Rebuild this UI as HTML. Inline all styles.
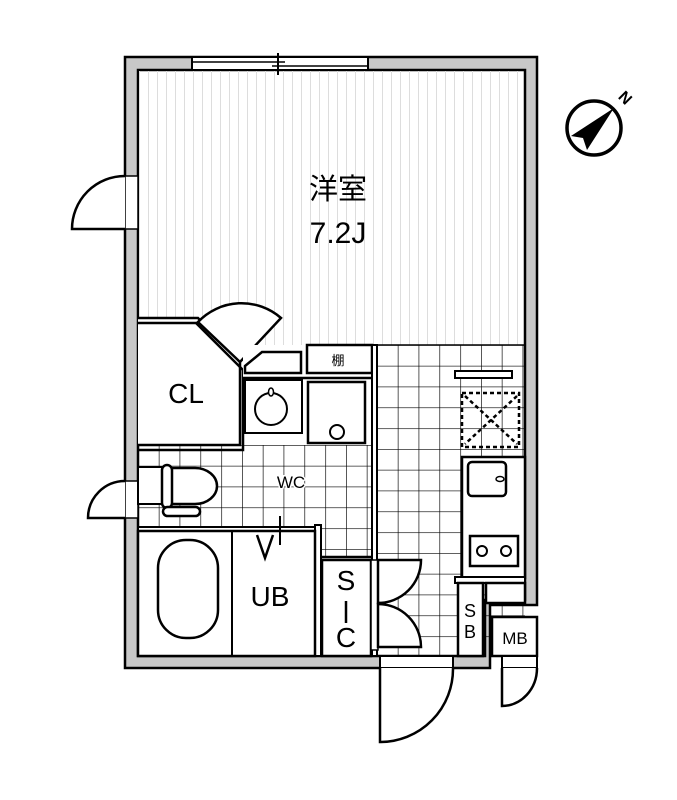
<!DOCTYPE html>
<html><head><meta charset="utf-8"><style>
html,body{margin:0;padding:0;background:#fff;}
svg{display:block;}
text{font-family:"Liberation Sans","Noto Sans CJK JP",sans-serif;fill:#000;}
</style></head><body>
<svg width="677" height="800" viewBox="0 0 677 800" xmlns="http://www.w3.org/2000/svg">
<defs>
<pattern id="str" width="9" height="10" patternUnits="userSpaceOnUse"><line x1="4.5" y1="0" x2="4.5" y2="10" stroke="#ddd" stroke-width="1"/></pattern>
<pattern id="tile" x="377" y="345" width="20.8" height="20.8" patternUnits="userSpaceOnUse"><path d="M0 0H20.8M0 0V20.8" stroke="#000" stroke-width="1.3" fill="none"/></pattern>
<pattern id="tile2" x="138" y="445" width="20.8" height="20.8" patternUnits="userSpaceOnUse"><path d="M0 0H20.8M0 0V20.8" stroke="#000" stroke-width="1.3" fill="none"/></pattern>
</defs>
<path d="M125 57H537V605H490V668H125Z" fill="#c8c8c8" stroke="#000" stroke-width="2.5"/>
<path d="M138 70H525V600H485V656H138Z" fill="#fff" stroke="#000" stroke-width="2.5"/>
<rect x="139" y="71" width="385" height="274" fill="url(#str)"/>
<rect x="377" y="345" width="148" height="311" fill="url(#tile)"/>
<rect x="138" y="445" width="234" height="82" fill="url(#tile2)"/>
<rect x="315" y="527" width="57" height="30" fill="url(#tile2)"/>
<line x1="377" y1="345" x2="525" y2="345" stroke="#000" stroke-width="1.5"/>
<rect x="192" y="57" width="176" height="13" fill="#fff" stroke="#000" stroke-width="2"/>
<line x1="192" y1="62" x2="285" y2="62" stroke="#000" stroke-width="1.5"/>
<line x1="272" y1="66" x2="368" y2="66" stroke="#000" stroke-width="1.5"/>
<line x1="278" y1="53" x2="278" y2="75" stroke="#000" stroke-width="2"/>
<rect x="125" y="176" width="13" height="53" fill="#fff" stroke="#000" stroke-width="1.5"/>
<path d="M125 176A53 53 0 0 0 72 229H125" fill="#fff" stroke="#000" stroke-width="2.5"/>
<rect x="125" y="481" width="13" height="37" fill="#fff" stroke="#000" stroke-width="1.5"/>
<path d="M125 481A37 37 0 0 0 88 518H125" fill="#fff" stroke="#000" stroke-width="2.5"/>
<path d="M138 318H198L240 362V445H138" fill="#fff" stroke="#000" stroke-width="2.5"/>
<path d="M138 323H196L243 370V450H138" fill="none" stroke="#000" stroke-width="2.5"/>
<path d="M198 322L240 362L281 318A60 60 0 0 0 198 322Z" fill="#fff" stroke="#000" stroke-width="2.5"/>
<text x="186" y="403" font-size="28" text-anchor="middle">CL</text>
<path d="M243 345H372V378H243Z" fill="#fff" stroke="none"/>
<path d="M262 352H301V373H245V366Z" fill="#fff" stroke="#000" stroke-width="2.5"/>
<rect x="307" y="345" width="65" height="28" fill="#fff" stroke="#000" stroke-width="2.5"/>
<text x="338" y="365" font-size="13" text-anchor="middle">棚</text>
<line x1="243" y1="378" x2="372" y2="378" stroke="#000" stroke-width="2.5"/>
<rect x="245" y="380" width="57" height="53" fill="#fff" stroke="#000" stroke-width="2"/>
<circle cx="271" cy="409" r="16" fill="none" stroke="#000" stroke-width="2"/>
<ellipse cx="271" cy="392" rx="2.5" ry="4" fill="#fff" stroke="#000" stroke-width="1.5"/>
<rect x="308" y="382" width="57" height="61" fill="#fff" stroke="#000" stroke-width="2.5"/>
<circle cx="337" cy="432" r="7" fill="none" stroke="#000" stroke-width="2"/>
<rect x="372" y="345" width="5" height="311" fill="#fff" stroke="#000" stroke-width="2"/>
<rect x="138" y="467" width="30" height="37" fill="#fff" stroke="#000" stroke-width="2"/>
<path d="M168 468H195A22 18 0 0 1 195 504H168Z" fill="#fff" stroke="#000" stroke-width="2.5"/>
<rect x="162" y="465" width="10" height="43" rx="5" fill="#fff" stroke="#000" stroke-width="2.5"/>
<rect x="163" y="507" width="37" height="9" rx="4.5" fill="#fff" stroke="#000" stroke-width="2.5"/>
<text x="291" y="488" font-size="17" text-anchor="middle" stroke="#fff" stroke-width="3" paint-order="stroke">WC</text>
<rect x="138" y="527" width="177" height="4" fill="#fff" stroke="#000" stroke-width="2"/>
<rect x="315" y="525" width="6" height="131" fill="#fff" stroke="#000" stroke-width="2"/>
<rect x="138" y="531" width="177" height="125" fill="#fff" stroke="#000" stroke-width="2.5"/>
<line x1="232" y1="531" x2="232" y2="656" stroke="#000" stroke-width="2"/>
<rect x="158" y="540" width="60" height="98" rx="28" fill="#fff" stroke="#000" stroke-width="2.5"/>
<path d="M257 535L265 558L273 535" fill="none" stroke="#000" stroke-width="2.5"/>
<line x1="280" y1="516" x2="280" y2="545" stroke="#000" stroke-width="2"/>
<text x="270" y="606" font-size="28" text-anchor="middle">UB</text>
<line x1="321" y1="557" x2="372" y2="557" stroke="#000" stroke-width="2.5"/>
<rect x="322" y="560" width="49" height="96" fill="#fff" stroke="#000" stroke-width="2.5"/>
<text x="346" y="590" font-size="28" text-anchor="middle">S</text>
<line x1="346" y1="601" x2="346" y2="623" stroke="#000" stroke-width="2.5"/>
<text x="346" y="647" font-size="28" text-anchor="middle">C</text>
<rect x="371" y="560" width="7" height="90" fill="#fff" stroke="#000" stroke-width="1.5"/>
<path d="M378 560H421A43 43 0 0 1 378 603Z" fill="#fff" stroke="#000" stroke-width="2.5"/>
<path d="M378 647H421A43 43 0 0 0 378 604Z" fill="#fff" stroke="#000" stroke-width="2.5"/>
<rect x="455" y="371" width="57" height="7" fill="#fff" stroke="#000" stroke-width="2"/>
<rect x="462" y="393" width="57" height="54" fill="none" stroke="#000" stroke-width="2.5" stroke-dasharray="4,3"/>
<path d="M465 396L517 444M517 396L465 444" stroke="#000" stroke-width="2.5" stroke-dasharray="4,3"/>
<rect x="462" y="457" width="63" height="121" fill="#fff" stroke="#000" stroke-width="2.5"/>
<rect x="468" y="462" width="38" height="34" rx="4" fill="#fff" stroke="#000" stroke-width="2.5"/>
<ellipse cx="500" cy="479" rx="4" ry="2.5" fill="none" stroke="#000" stroke-width="1.5"/>
<rect x="470" y="536" width="48" height="30" fill="#fff" stroke="#000" stroke-width="2.5"/>
<circle cx="482" cy="551" r="5" fill="none" stroke="#000" stroke-width="2"/>
<circle cx="506" cy="551" r="5" fill="none" stroke="#000" stroke-width="2"/>
<rect x="455" y="577" width="70" height="6" fill="#fff" stroke="#000" stroke-width="2"/>
<rect x="458" y="583" width="25" height="73" fill="#fff" stroke="#000" stroke-width="2.5"/>
<rect x="486" y="583" width="39" height="20" fill="#fff" stroke="#000" stroke-width="2.5"/>
<text x="470" y="617" font-size="18" text-anchor="middle">S</text>
<text x="470" y="638" font-size="18" text-anchor="middle">B</text>
<rect x="492" y="617" width="45" height="39" fill="#fff" stroke="#000" stroke-width="2.5"/>
<text x="515" y="644" font-size="17" text-anchor="middle">MB</text>
<rect x="380" y="656" width="73" height="12" fill="#fff" stroke="#000" stroke-width="2"/>
<path d="M380 668V742A73 73 0 0 0 453 668" fill="#fff" stroke="#000" stroke-width="2.5"/>
<rect x="502" y="656" width="35" height="12" fill="#fff" stroke="#000" stroke-width="2"/>
<path d="M502 668V706A35 38 0 0 0 537 668" fill="#fff" stroke="#000" stroke-width="2.5"/>
<text x="338" y="199" font-size="29" text-anchor="middle">洋室</text>
<text x="338" y="243" font-size="30" text-anchor="middle">7.2J</text>
<circle cx="594" cy="128" r="27" fill="none" stroke="#000" stroke-width="3.5"/>
<path d="M614 108L571 136L583 138L587 150Z" fill="#000"/>
<text x="625" y="103" font-size="16" font-weight="bold" text-anchor="middle" transform="rotate(45 625 98)">N</text>
</svg>
</body></html>
